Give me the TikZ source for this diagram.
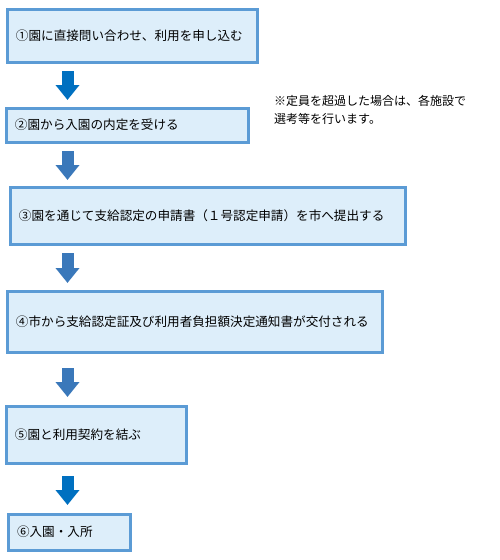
\documentclass[tikz,border=0pt]{standalone}
\usepackage{fontspec}
\setmainfont{Noto Sans CJK JP}
\usepackage{tikz}
\usetikzlibrary{arrows.meta}
\definecolor{boxline}{HTML}{5B9BD5}
\definecolor{boxfill}{HTML}{DDEEFA}
\definecolor{arrowblue}{HTML}{0070C0}
\definecolor{arrowdull}{HTML}{3A78BA}

\begin{document}
\begin{tikzpicture}[x=1pt,y=-1pt,
  stepbox/.style={draw=boxline,line width=3pt,fill=boxfill,anchor=north west,
    align=left,inner xsep=9pt,inner ysep=0pt,font=\fontsize{12.6}{17}\selectfont},
  notetext/.style={align=left,inner sep=0pt,font=\fontsize{12}{18}\selectfont},
  flowarrow/.style={draw=#1,line width=12pt,-{Triangle[width=23pt,length=15pt]}}]
%\draw[help lines] (0,0) grid (500,560);
\useasboundingbox (0,0) rectangle (500,560);

\node[stepbox,text width=232pt,minimum height=53pt] (s1) at (5.5,7.5) {①園に直接問い合わせ、利用を申し込む};
\node[stepbox,text width=224pt,minimum height=34pt] (s2) at (4.5,106.5) {②園から入園の内定を受ける};
\node[stepbox,text width=377pt,minimum height=57pt] (s3) at (8.5,185.5) {③園を通じて支給認定の申請書（１号認定申請）を市へ提出する};
\node[stepbox,text width=357pt,minimum height=61pt] (s4) at (5.5,289.5) {④市から支給認定証及び利用者負担額決定通知書が交付される};
\node[stepbox,text width=162pt,minimum height=57pt] (s5) at (4.5,404.5) {⑤園と利用契約を結ぶ};
\node[stepbox,text width=104pt,minimum height=36pt] (s6) at (6.5,512.5) {⑥入園・入所};

\node[notetext,anchor=base west] (note) at (274,123.5) {※定員を超過した場合は、各施設で\\選考等を行います。};

% arrows between the steps
\coordinate (ax) at (67.5,0);
\draw[flowarrow=arrowblue,shorten <=7.5pt,shorten >=6.5pt] (s1.south -| ax) -- (s2.north -| ax);
\draw[flowarrow=arrowdull,shorten <=7.5pt,shorten >=5.5pt] (s2.south -| ax) -- (s3.north -| ax);
\draw[flowarrow=arrowdull,shorten <=7.5pt,shorten >=6.5pt] (s3.south -| ax) -- (s4.north -| ax);
\draw[flowarrow=arrowdull,shorten <=14.5pt,shorten >=7.5pt] (s4.south -| ax) -- (s5.north -| ax);
\draw[flowarrow=arrowblue,shorten <=11.5pt,shorten >=7.5pt] (s5.south -| ax) -- (s6.north -| ax);
\end{tikzpicture}
\end{document}
